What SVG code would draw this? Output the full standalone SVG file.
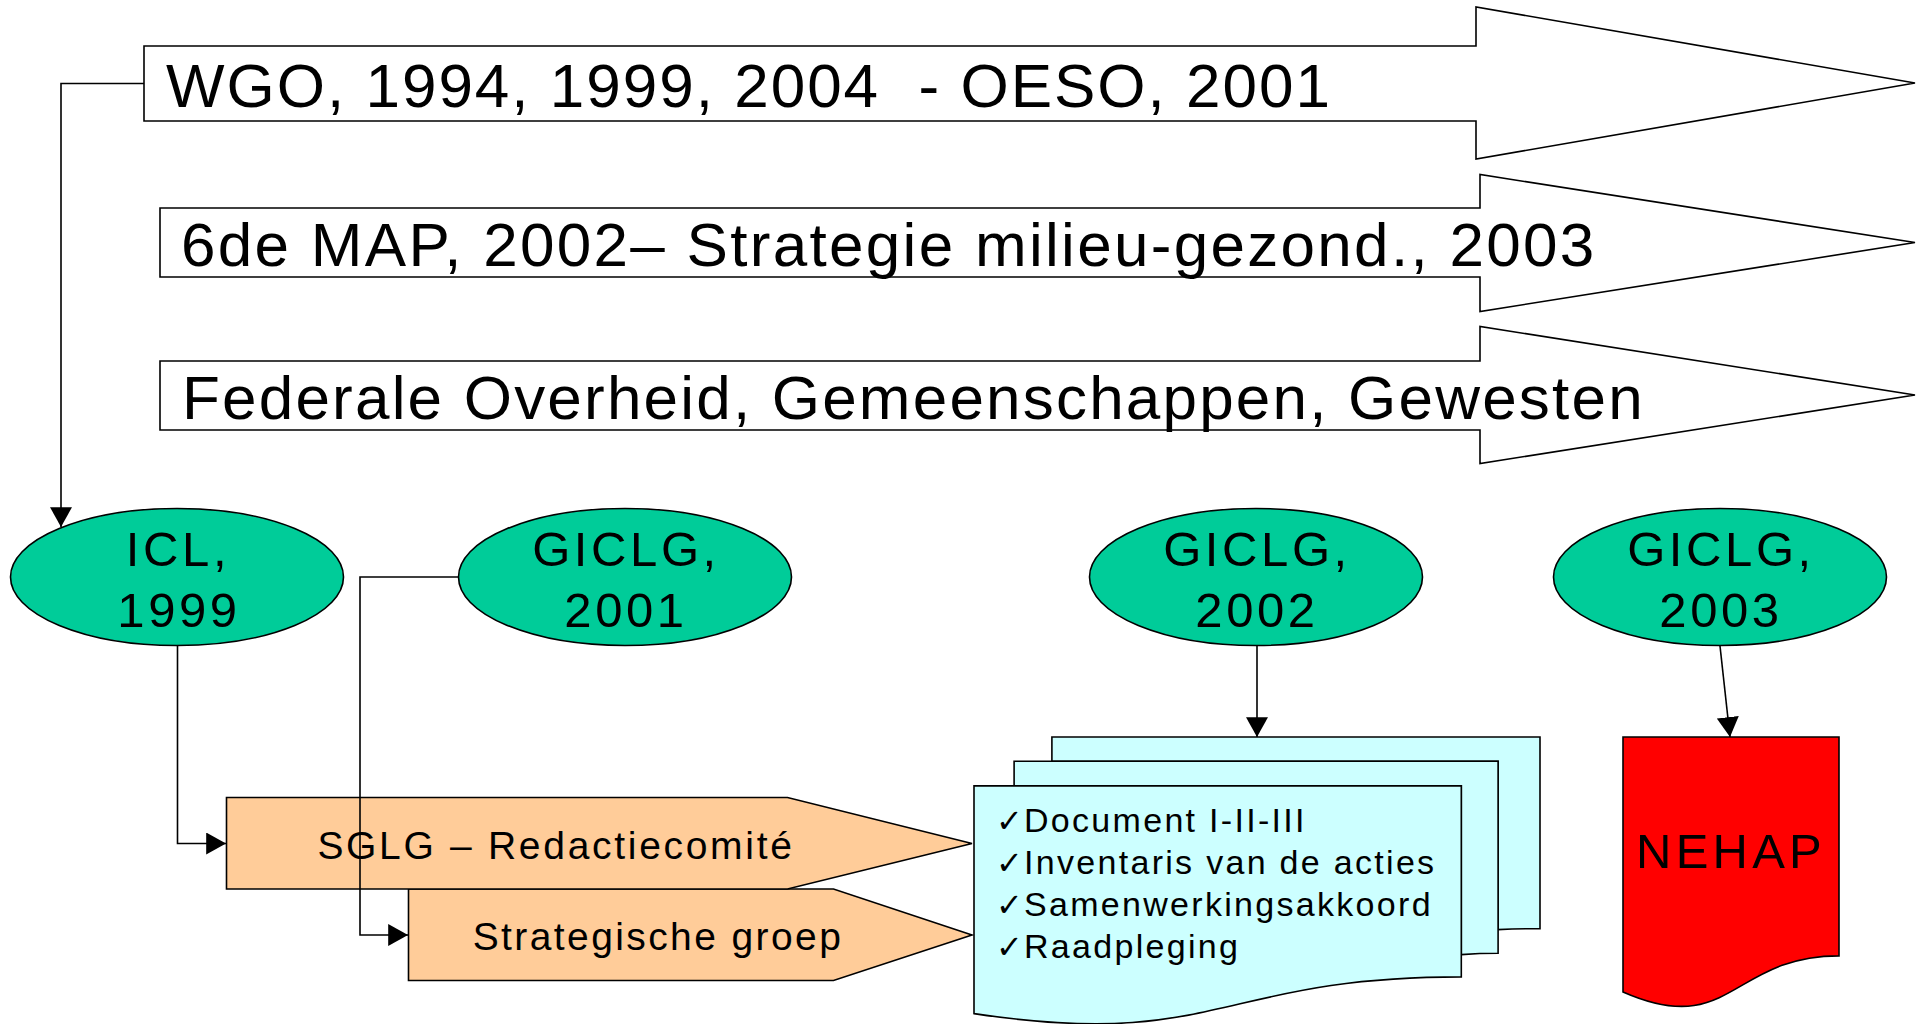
<svg xmlns="http://www.w3.org/2000/svg" width="1917" height="1024" viewBox="0 0 1917 1024">
<defs>
<style>
.ba{fill:#FFFFFF;stroke:#000;stroke-width:1.6;stroke-linejoin:miter}
.ell{fill:#00CC99;stroke:#000;stroke-width:1.6}
.pent{fill:#FFCC99;stroke:#000;stroke-width:1.6;stroke-linejoin:miter}
.doc{fill:#CCFFFF;stroke:#000;stroke-width:1.6;stroke-linejoin:miter}
.nehap{fill:#FF0000;stroke:#000;stroke-width:1.6}
.con{fill:none;stroke:#000;stroke-width:1.6}
text{font-family:"Liberation Sans",Arial,sans-serif;fill:#000}
.big{font-size:62px;letter-spacing:2.2px}
.et{font-size:49px;letter-spacing:3.6px;text-anchor:middle}
.pt{font-size:39px;text-anchor:middle}
.dt{font-size:34px;letter-spacing:2.3px}
.chk{font-family:"DejaVu Sans",sans-serif;font-size:32px;letter-spacing:0}
</style>
<marker id="ah" markerUnits="userSpaceOnUse" markerWidth="20" markerHeight="22" viewBox="0 0 18 20" refX="18" refY="10" orient="auto">
<path d="M0,0 L18,10 L0,20 Z" fill="#000"/>
</marker>
</defs>
<rect width="1917" height="1024" fill="#FFFFFF"/>

<g id="arrow-wgo">
<path class="ba" d="M144,46 L1476,46 L1476,7 L1915,83 L1476,159 L1476,121 L144,121 Z"/>
<text class="big" x="166" y="107" xml:space="preserve" style="letter-spacing:2px">WGO, 1994, 1999, 2004  - OESO, 2001</text>
</g>
<g id="arrow-map">
<path class="ba" d="M160,208 L1480,208 L1480,174.5 L1915,242.5 L1480,311.5 L1480,277 L160,277 Z"/>
<text class="big" x="181" y="266" style="letter-spacing:2.3px">6de MAP, 2002– Strategie milieu-gezond., 2003</text>
</g>
<g id="arrow-federaal">
<path class="ba" d="M160,361 L1480,361 L1480,326.5 L1915,395 L1480,463.5 L1480,430 L160,430 Z"/>
<text class="big" x="182" y="419">Federale Overheid, Gemeenschappen, Gewesten</text>
</g>

<g id="icl-1999">
<ellipse class="ell" cx="177" cy="577" rx="166.5" ry="68.5"/>
<text class="et" x="178" y="566">ICL,</text>
<text class="et" x="179" y="627">1999</text>
</g>
<g id="giclg-2001">
<ellipse class="ell" cx="625" cy="577" rx="166.5" ry="68.5"/>
<text class="et" x="626" y="566">GICLG,</text>
<text class="et" x="626" y="627">2001</text>
</g>
<g id="giclg-2002">
<ellipse class="ell" cx="1256" cy="577" rx="166.5" ry="68.5"/>
<text class="et" x="1257" y="566">GICLG,</text>
<text class="et" x="1257" y="627">2002</text>
</g>
<g id="giclg-2003">
<ellipse class="ell" cx="1720" cy="577" rx="166.5" ry="68.5"/>
<text class="et" x="1721" y="566">GICLG,</text>
<text class="et" x="1721" y="627">2003</text>
</g>

<g id="strategische-groep">
<path class="pent" d="M408.5,889 L833.5,889 L972,935 L833.5,980.5 L408.5,980.5 Z"/>
<text class="pt" x="658" y="950" style="letter-spacing:2.4px">Strategische groep</text>
</g>
<g id="sglg">
<path class="pent" d="M226.5,797.5 L787.5,797.5 L972,843.5 L787.5,889 L226.5,889 Z"/>
<text class="pt" x="556" y="859" style="letter-spacing:2.7px">SGLG – Redactiecomité</text>
</g>

<g id="documenten">
<path class="doc" d="M1051.9,761.2 L1051.9,737 L1540,737 L1540,928.6 C1519,928.6 1498.1,929.6 1498.1,929.6 L1498.1,761.2 Z"/>
<path class="doc" d="M1014.1,785.9 L1014.1,761.2 L1498.1,761.2 L1498.1,953.3 C1479.7,953.3 1461.3,954.6 1461.3,954.6 L1461.3,785.9 Z"/>
<path class="doc" d="M974,1013.6 C1217.6,1050.3 1217.6,976.9 1461.3,976.9 L1461.3,785.9 L974,785.9 Z"/>
<text class="dt" y="831.5"><tspan class="chk" x="996">✓</tspan><tspan x="1024">Document I-II-III</tspan></text>
<text class="dt" y="873.5"><tspan class="chk" x="996">✓</tspan><tspan x="1024">Inventaris van de acties</tspan></text>
<text class="dt" y="915.5"><tspan class="chk" x="996">✓</tspan><tspan x="1024">Samenwerkingsakkoord</tspan></text>
<text class="dt" y="957.5"><tspan class="chk" x="996">✓</tspan><tspan x="1024">Raadpleging</tspan></text>
</g>

<g id="nehap">
<path class="nehap" d="M1623,737 L1839,737 L1839,955.9 C1731,955.9 1731,1039.3 1623,991.9 Z"/>
<text x="1731" y="868" style="font-size:49px;letter-spacing:4.2px;text-anchor:middle">NEHAP</text>
</g>

<g id="connectors">
<path class="con" d="M144,83.5 H61 V527" marker-end="url(#ah)"/>
<path class="con" d="M177.5,646 V843.5 H226" marker-end="url(#ah)"/>
<path class="con" d="M458.5,577 H360 V935 H408" marker-end="url(#ah)"/>
<path class="con" d="M1257,646 V737" marker-end="url(#ah)"/>
<path class="con" d="M1720,646 L1730,737" marker-end="url(#ah)"/>
</g>
</svg>
